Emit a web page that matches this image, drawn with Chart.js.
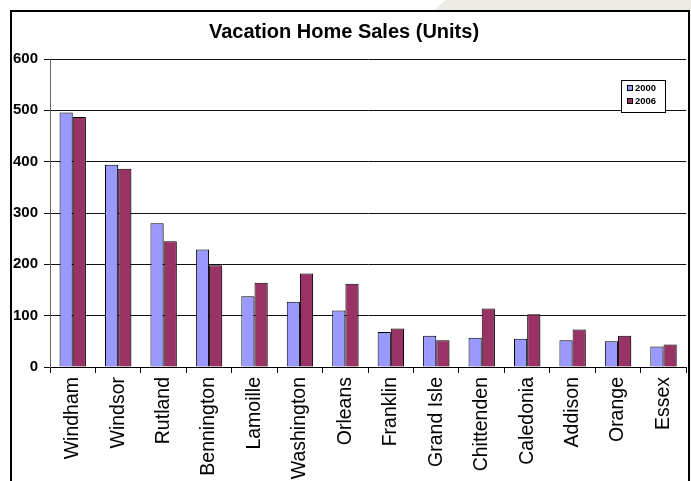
<!DOCTYPE html>
<html>
<head>
<meta charset="utf-8">
<script src="https://cdn.jsdelivr.net/npm/chart.js@4/dist/chart.umd.min.js"></script>
<style>
  html, body { margin: 0; padding: 0; background: #fff; overflow: hidden; }
  #wrap { position: relative; width: 691px; height: 481px; }
  #beige { position: absolute; left: 0; top: 0; width: 691px; height: 481px; background: #ECEBE4;
           clip-path: polygon(446px 0, 691px 0, 691px 11px, 433px 11px); }
  #frame { position: absolute; left: 10px; top: 10px; width: 676px; height: 520px;
           border: 2px solid #000; background: #fff; }
  canvas { position: absolute; left: 0; top: 0; }
</style>
</head>
<body>
<div id="wrap">
  <div id="beige"></div>
  <div id="frame"></div>
  <canvas id="c" width="691" height="481"></canvas>
</div>
<script>
const chartTitle = "Vacation Home Sales (Units)";
const categories = ["Windham", "Windsor", "Rutland", "Bennington", "Lamoille", "Washington", "Orleans",
                    "Franklin", "Grand Isle", "Chittenden", "Caledonia", "Addison", "Orange", "Essex"];
const seriesNames = ["2000", "2006"];
const sales2000 = [496, 394, 280, 229, 138, 127, 110, 68, 61, 57, 55, 52, 50, 40];
const sales2006 = [487, 386, 245, 198, 164, 182, 162, 75, 52, 114, 103, 73, 61, 44];
const yTicks = [0, 100, 200, 300, 400, 500, 600];
const colors = ["#9999FF", "#993366"];

const FONT = "'Liberation Sans', Arial, sans-serif";

const shadowPlugin = {
  id: 'barShadow',
  beforeDatasetsDraw(chart) {
    const ctx = chart.ctx;
    ctx.save();
    ctx.shadowColor = 'rgba(0,0,0,0.3)';
    ctx.shadowOffsetX = 2;
    ctx.shadowOffsetY = 1;
    ctx.shadowBlur = 1;
  },
  afterDatasetsDraw(chart) {
    chart.ctx.restore();
  }
};

const legendPlugin = {
  id: 'boxLegend',
  afterDraw(chart) {
    const ctx = chart.ctx;
    const x = 621, y = 80, w = 44, h = 32;
    ctx.save();
    ctx.fillStyle = '#fff';
    ctx.fillRect(x, y, w, h);
    ctx.strokeStyle = '#000';
    ctx.lineWidth = 1;
    ctx.strokeRect(x + 0.5, y + 0.5, w, h);
    chart.data.datasets.forEach((ds, i) => {
      const cy = y + 7.5 + i * 13.7;
      ctx.fillStyle = ds.backgroundColor;
      ctx.fillRect(627, Math.round(cy - 3), 6, 6);
      ctx.strokeStyle = '#000';
      ctx.strokeRect(627.5, Math.round(cy - 3) + 0.5, 5, 5);
      ctx.fillStyle = '#000';
      ctx.font = "bold 9.5px " + FONT;
      ctx.textBaseline = 'middle';
      ctx.textAlign = 'left';
      ctx.fillText(ds.label, 635, cy + 0.5);
    });
    ctx.restore();
  }
};

new Chart(document.getElementById('c'), {
  type: 'bar',
  data: {
    labels: categories,
    datasets: [
      { label: seriesNames[0], data: sales2000, backgroundColor: colors[0], borderColor: '#000', borderWidth: 1,
        categoryPercentage: 0.58, barPercentage: 1.0 },
      { label: seriesNames[1], data: sales2006, backgroundColor: colors[1], borderColor: '#000', borderWidth: 1,
        categoryPercentage: 0.58, barPercentage: 1.0 }
    ]
  },
  options: {
    responsive: false,
    animation: false,
    devicePixelRatio: 1,
    layout: { padding: { left: 0, right: 3, top: 0, bottom: 0 } },
    plugins: {
      legend: { display: false },
      tooltip: { enabled: false },
      title: {
        display: true,
        text: chartTitle,
        color: '#000',
        font: { family: FONT, size: 20, weight: 'bold', lineHeight: 1.2 },
        padding: { top: 20, bottom: 15 }
      }
    },
    scales: {
      x: {
        offset: true,
        grid: { offset: true, drawOnChartArea: false, drawTicks: true, tickLength: 6, color: '#000' },
        border: { color: '#000', width: 1 },
        ticks: {
          autoSkip: false, maxRotation: 90, minRotation: 90, padding: 4,
          color: '#000', font: { family: FONT, size: 19.5 }
        },
        afterFit(scale) { scale.height = 114; }
      },
      y: {
        min: 0, max: 600,
        afterBuildTicks(scale) { scale.ticks = yTicks.map(v => ({ value: v })); },
        grid: { color: '#111', tickLength: 6, drawTicks: true },
        border: { color: '#666', width: 1 },
        ticks: {
          stepSize: 100, padding: 6, color: '#000',
          font: { family: FONT, size: 15, weight: 'bold' }
        },
        afterFit(scale) { scale.width = 50; }
      }
    }
  },
  plugins: [shadowPlugin, legendPlugin]
});
</script>
</body>
</html>
